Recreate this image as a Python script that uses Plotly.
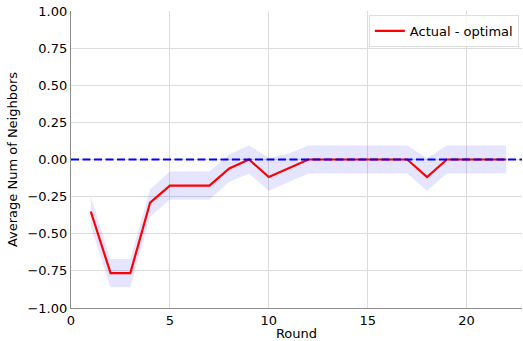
import plotly.graph_objects as go

rounds = list(range(1, 23))
actual_minus_optimal = [-0.35, -0.765, -0.765, -0.29, -0.176, -0.176, -0.176, -0.06, 0.0, -0.118,
                        -0.059, 0.0, 0.0, 0.0, 0.0, 0.0, 0.0, -0.118, 0.0, 0.0, 0.0, 0.0]
band_upper = [-0.25, -0.67, -0.67, -0.2, -0.08, -0.08, -0.08, 0.035, 0.095, 0.01,
              0.04, 0.095, 0.095, 0.095, 0.095, 0.095, 0.095, 0.01, 0.095, 0.095, 0.095, 0.095]
band_lower = [-0.45, -0.86, -0.86, -0.385, -0.27, -0.27, -0.27, -0.15, -0.095, -0.21,
              -0.15, -0.095, -0.095, -0.095, -0.095, -0.095, -0.095, -0.21, -0.095, -0.095, -0.095, -0.095]
x_ticks = [0, 5, 10, 15, 20]
y_ticks = [-1.0, -0.75, -0.5, -0.25, 0.0, 0.25, 0.5, 0.75, 1.0]

FONT = "DejaVu Sans"
fig = go.Figure()

# shaded spread around the difference curve
fig.add_trace(go.Scatter(x=rounds, y=band_lower, mode="lines", line=dict(width=0),
                         showlegend=False, hoverinfo="skip"))
fig.add_trace(go.Scatter(x=rounds, y=band_upper, mode="lines", line=dict(width=0),
                         fill="tonexty", fillcolor="rgba(0,0,255,0.1)",
                         showlegend=False, hoverinfo="skip"))
fig.add_trace(go.Scatter(x=rounds, y=actual_minus_optimal, mode="lines",
                         line=dict(color="red", width=2.2), name="Actual - optimal"))
# zero reference line
fig.add_trace(go.Scatter(x=[0, 22.8], y=[0, 0], mode="lines",
                         line=dict(color="blue", width=2.2, dash="8px,3.5px"),
                         showlegend=False, hoverinfo="skip"))

fig.update_layout(
    width=523, height=341,
    margin=dict(l=71, r=1, t=11, b=33),
    paper_bgcolor="white", plot_bgcolor="white",
    font=dict(family=FONT, size=13, color="black"),
    showlegend=True,
    legend=dict(x=0.993, y=0.987, xanchor="right", yanchor="top",
                bgcolor="rgba(255,255,255,0.8)", bordercolor="#dddddd", borderwidth=1,
                font=dict(family=FONT, size=13)),
    xaxis=dict(range=[0, 22.8], tickvals=x_ticks, showgrid=True, gridcolor="#dcdcdc",
               gridwidth=1, showline=True, linecolor="#8c8c8c", linewidth=1.2,
               zeroline=False, ticks="", title=dict(text="Round", standoff=2,
               font=dict(family=FONT, size=13))),
    yaxis=dict(range=[-1.0, 1.0], tickvals=y_ticks, tickformat=".2f",
               showgrid=True, gridcolor="#dcdcdc", gridwidth=1, showline=True,
               linecolor="#8c8c8c", linewidth=1.2, zeroline=False, ticks="",
               title=dict(text="Average Num of Neighbors", standoff=6,
                          font=dict(family=FONT, size=13))),
)

fig.write_html("out.html")
